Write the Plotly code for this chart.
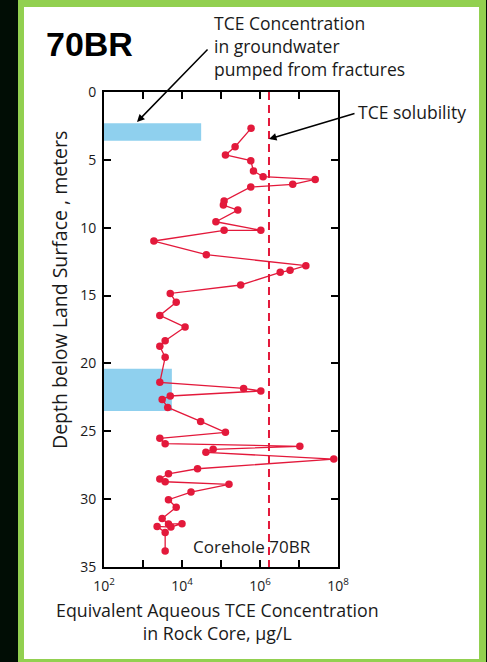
import plotly.graph_objects as go

# Equivalent aqueous TCE concentration in rock core (ug/L) vs depth (m), corehole 70BR
depth_m = [2.68, 4.03, 4.64, 5.06, 5.82, 6.24, 6.44, 6.80, 7.00, 8.03, 8.33, 8.70,
           9.56, 10.19, 10.19, 10.98, 11.99, 12.80, 13.14, 13.29, 14.22, 14.84, 15.50,
           16.46, 17.32, 18.32, 18.74, 19.55, 21.39, 21.84, 22.03, 22.40, 22.65, 23.24,
           24.27, 25.08, 25.52, 25.91, 26.11, 26.33, 26.55, 27.05, 27.76, 28.13, 28.52,
           28.72, 28.91, 29.48, 30.04, 30.60, 31.42, 31.84, 31.81, 32.06, 32.01, 32.45,
           33.82]
tce_ugL = [5.9e5, 2.3e5, 1.3e5, 5.8e5, 6.8e5, 1.2e6, 2.6e7, 6.9e6, 5.8e5, 1.2e5, 1.15e5,
           2.7e5, 7.4e4, 1.05e6, 1.2e5, 1.9e3, 4.2e4, 1.5e7, 5.9e6, 3.3e6, 3.2e5, 5.0e3,
           7.1e3, 2.7e3, 1.2e4, 3.7e3, 2.7e3, 3.7e3, 2.7e3, 3.8e5, 1.05e6, 5.0e3, 3.1e3,
           4.3e3, 3.0e4, 1.3e5, 2.7e3, 3.7e3, 1.05e7, 6.3e4, 4.1e4, 7.8e7, 2.5e4, 4.5e3,
           2.7e3, 3.7e3, 1.6e5, 1.7e4, 4.5e3, 7.1e3, 3.1e3, 4.5e3, 1.0e4, 5.2e3, 2.3e3,
           3.7e3, 3.7e3]

# Groundwater pumped from fractures: [top depth, bottom depth, concentration]
gw_top = [2.3, 20.4]
gw_bottom = [3.6, 23.5]
gw_conc = [3.1e4, 5.5e3]

tce_solubility = 1.7e6
x_min, x_max = 1e2, 1e8
y_min, y_max = 0, 35

x_tickvals = [1e2, 1e3, 1e4, 1e5, 1e6, 1e7, 1e8]
x_ticktext = ["10<sup>2</sup>", "", "10<sup>4</sup>", "", "10<sup>6</sup>", "", "10<sup>8</sup>"]
y_tickvals = [0, 5, 10, 15, 20, 25, 30, 35]

W, H = 487, 662
L, R, T, B = 104, 338, 92, 567
FONT = "Open Sans"
TXT = "#1a1a1a"
RED = "#e3193b"
BLUE = "#8fd0ee"


def px(x):
    return (x - L) / (R - L)


def py(y):
    return (B - y) / (B - T)


fig = go.Figure()

for top, bot, c in zip(gw_top, gw_bottom, gw_conc):
    fig.add_trace(go.Scatter(
        x=[x_min, c, c, x_min, x_min], y=[top, top, bot, bot, top],
        mode="lines", fill="toself", fillcolor=BLUE,
        line=dict(width=0, color=BLUE), hoverinfo="skip", showlegend=False))

fig.add_trace(go.Scatter(
    x=[tce_solubility, tce_solubility], y=[y_min, y_max], mode="lines",
    line=dict(color=RED, width=2, dash="8px,5px"), showlegend=False))

fig.add_trace(go.Scatter(
    x=tce_ugL, y=depth_m, mode="lines+markers",
    line=dict(color=RED, width=1.3),
    marker=dict(color=RED, size=7.5), showlegend=False))

# frame: dark background, green border, white panel
fig.add_shape(type="rect", xref="paper", yref="paper", layer="below",
              x0=px(18), x1=px(486), y0=py(0), y1=py(662),
              fillcolor="#92d050", line=dict(width=0))
fig.add_shape(type="rect", xref="paper", yref="paper", layer="below",
              x0=px(24), x1=px(479), y0=py(7), y1=py(659),
              fillcolor="white", line=dict(width=0))

annotations = [
    dict(text="<b>70BR</b>", x=px(44), y=py(44), xanchor="left", yanchor="middle",
         font=dict(size=34, family="Liberation Sans", color="black")),
    dict(text="TCE Concentration<br>in groundwater<br>pumped from fractures",
         x=px(212), y=py(46), xanchor="left", yanchor="middle", align="left",
         font=dict(size=17.5, family=FONT, color=TXT)),
    dict(text="TCE solubility", x=px(356), y=py(112), xanchor="left", yanchor="middle",
         font=dict(size=17.5, family=FONT, color=TXT)),
    dict(text="Corehole 70BR", x=px(252), y=py(546), xanchor="center", yanchor="middle",
         font=dict(size=17, family=FONT, color=TXT)),
    dict(text="Depth below Land Surface , meters", x=px(59), y=py(290),
         xanchor="center", yanchor="middle", textangle=-90,
         font=dict(size=19.5, family=FONT, color=TXT)),
    dict(text="Equivalent Aqueous TCE Concentration<br>in Rock Core, µg/L",
         x=px(217), y=py(621), xanchor="center", yanchor="middle", align="center",
         font=dict(size=17.8, family=FONT, color=TXT)),
    dict(text="", x=px(137), y=py(122), ax=72, ay=-74, showarrow=True,
         arrowhead=2, arrowsize=1, arrowwidth=1.5, arrowcolor="black",
         standoff=0, startstandoff=0),
    dict(text="", x=px(269), y=py(139), ax=87, ay=-26, showarrow=True,
         arrowhead=2, arrowsize=1, arrowwidth=1.5, arrowcolor="black",
         standoff=0, startstandoff=0),
]
for a in annotations:
    a.setdefault("xref", "paper")
    a.setdefault("yref", "paper")
    a.setdefault("showarrow", False)
    fig.add_annotation(**a)

axis_common = dict(showline=True, linecolor="black", linewidth=2, mirror="ticks",
                   ticks="inside", ticklen=7, tickwidth=1.5, tickcolor="black",
                   showgrid=False, zeroline=False,
                   tickfont=dict(size=14, family=FONT, color=TXT))

fig.update_xaxes(type="log", range=[2, 8], tickvals=x_tickvals, ticktext=x_ticktext,
                 ticklabelstandoff=5, **axis_common)
fig.update_yaxes(range=[y_max, y_min], tickvals=y_tickvals, ticklabelstandoff=3,
                 **axis_common)

fig.update_layout(width=W, height=H, margin=dict(l=L, r=W - R, t=T, b=H - B),
                  paper_bgcolor="#010d05", plot_bgcolor="white",
                  annotations=fig.layout.annotations, showlegend=False)

fig.write_html("out.html")
